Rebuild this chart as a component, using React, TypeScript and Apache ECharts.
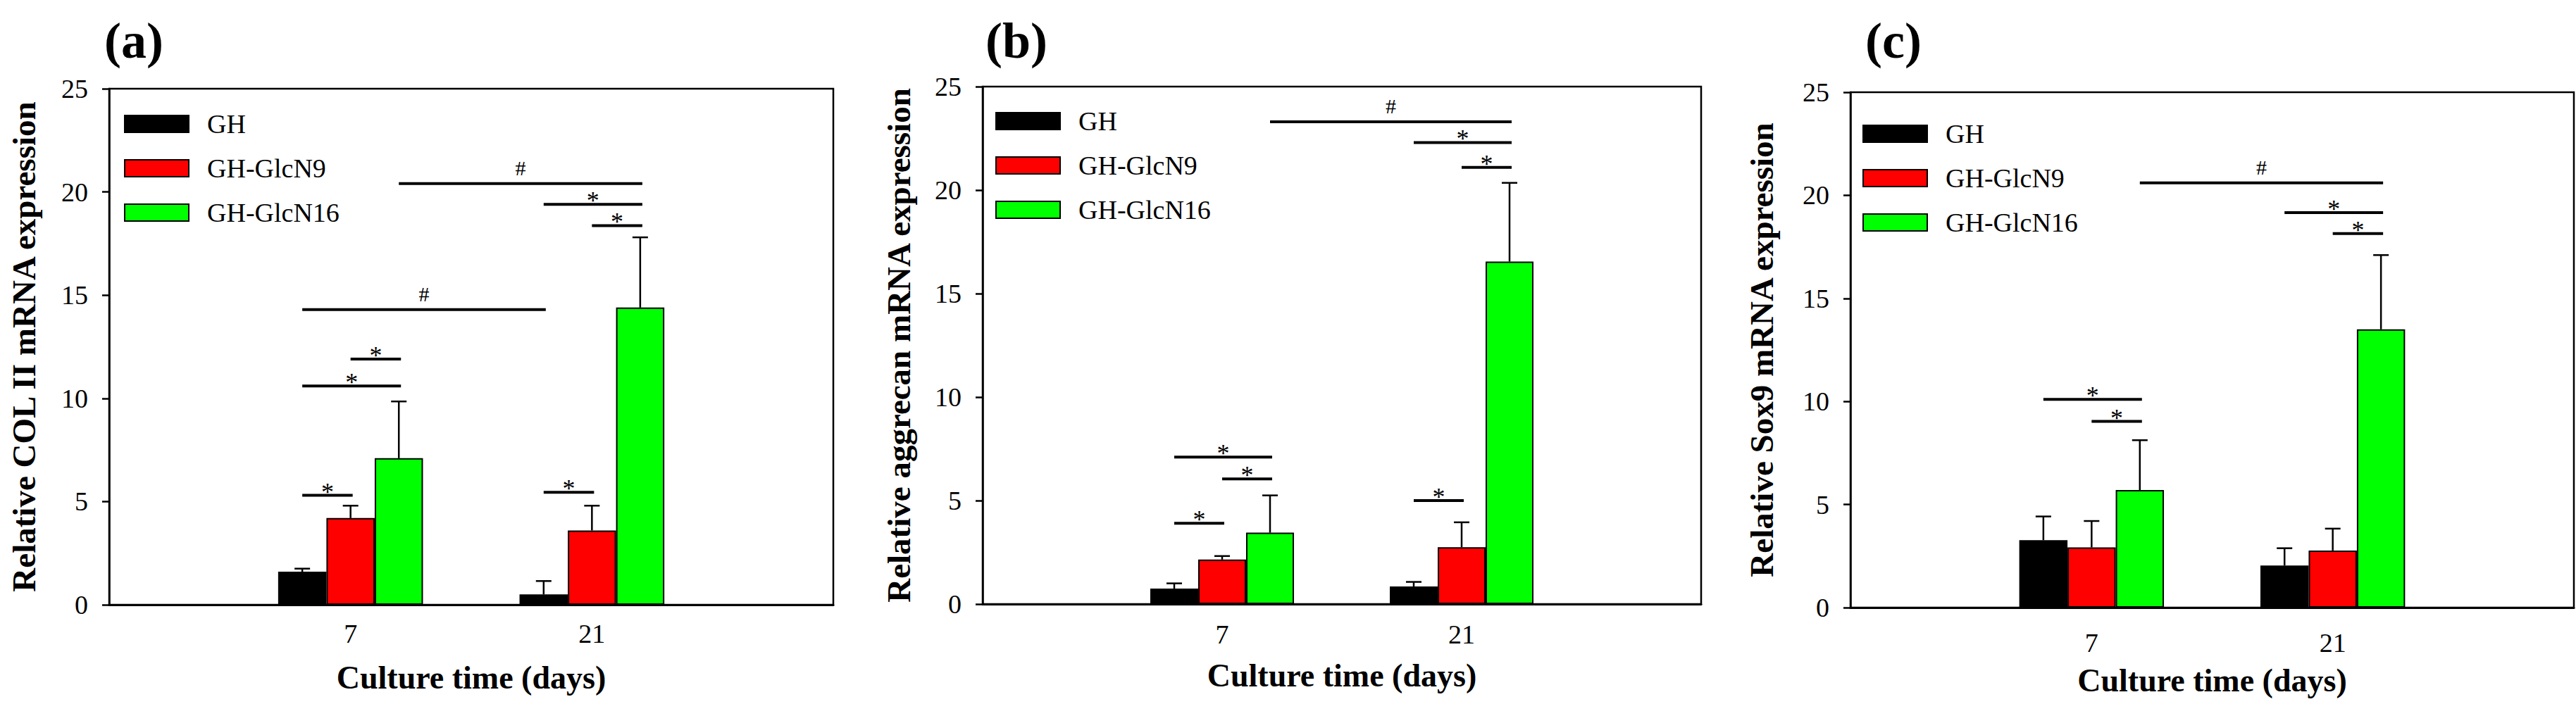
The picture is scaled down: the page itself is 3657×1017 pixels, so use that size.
import React, { useEffect, useRef } from 'react';
import * as echarts from 'echarts';

// ---------- data ----------
const categories = ['', '7', '21', ''];
const groupNames = ['GH', 'GH-GlcN9', 'GH-GlcN16'];
const groupColors = ['#000000', '#ff0000', '#00ff00'];
const xTitle = 'Culture time (days)';

// panel (a) COL II
const colMeanGH = [1.6, 0.5];
const colMeanGlcN9 = [4.2, 3.6];
const colMeanGlcN16 = [7.1, 14.4];
const colErrGH = [0.15, 0.65];
const colErrGlcN9 = [0.6, 1.2];
const colErrGlcN16 = [2.75, 3.4];

// panel (b) aggrecan
const aggMeanGH = [0.75, 0.85];
const aggMeanGlcN9 = [2.15, 2.75];
const aggMeanGlcN16 = [3.45, 16.55];
const aggErrGH = [0.25, 0.22];
const aggErrGlcN9 = [0.17, 1.2];
const aggErrGlcN16 = [1.8, 3.8];

// panel (c) Sox9
const soxMeanGH = [3.27, 2.04];
const soxMeanGlcN9 = [2.92, 2.77];
const soxMeanGlcN16 = [5.7, 13.5];
const soxErrGH = [1.15, 0.84];
const soxErrGlcN9 = [1.28, 1.06];
const soxErrGlcN16 = [2.42, 3.6];

// significance marks: from [dayIndex, groupIndex] to [dayIndex, groupIndex] at height y
type Mark = { a: [number, number]; b: [number, number]; y: number; t: string };
const colMarks: Mark[] = [
  { a: [0, 0], b: [0, 1], y: 5.3, t: '*' },
  { a: [0, 0], b: [0, 2], y: 10.6, t: '*' },
  { a: [0, 1], b: [0, 2], y: 11.9, t: '*' },
  { a: [0, 0], b: [1, 0], y: 14.3, t: '#' },
  { a: [1, 0], b: [1, 1], y: 5.45, t: '*' },
  { a: [1, 0], b: [1, 2], y: 19.4, t: '*' },
  { a: [1, 1], b: [1, 2], y: 18.37, t: '*' },
  { a: [0, 2], b: [1, 2], y: 20.4, t: '#' },
];
const aggMarks: Mark[] = [
  { a: [0, 0], b: [0, 1], y: 3.9, t: '*' },
  { a: [0, 0], b: [0, 2], y: 7.1, t: '*' },
  { a: [0, 1], b: [0, 2], y: 6.05, t: '*' },
  { a: [1, 0], b: [1, 1], y: 5.0, t: '*' },
  { a: [1, 0], b: [1, 2], y: 22.3, t: '*' },
  { a: [1, 1], b: [1, 2], y: 21.1, t: '*' },
  { a: [0, 2], b: [1, 2], y: 23.3, t: '#' },
];
const soxMarks: Mark[] = [
  { a: [0, 0], b: [0, 2], y: 10.1, t: '*' },
  { a: [0, 1], b: [0, 2], y: 9.03, t: '*' },
  { a: [1, 0], b: [1, 2], y: 19.16, t: '*' },
  { a: [1, 1], b: [1, 2], y: 18.14, t: '*' },
  { a: [0, 2], b: [1, 2], y: 20.6, t: '#' },
];

// ---------- layout ----------
const FONT = 'Liberation Serif';
const BAR_FRAC = 0.2;

const panels = [
  {
    label: '(a)',
    yName: 'Relative COL II mRNA expression',
    means: [colMeanGH, colMeanGlcN9, colMeanGlcN16],
    errs: [colErrGH, colErrGlcN9, colErrGlcN16],
    marks: colMarks,
    grid: { left: 155, top: 126, width: 1028, height: 733 },
    legend: { left: 176, top: 157 },
    title: { left: 148, top: 22 },
    xLabelMargin: 22,
    xNameGap: 80,
    yNameGap: 98,
  },
  {
    label: '(b)',
    yName: 'Relative aggrecan mRNA expression',
    means: [aggMeanGH, aggMeanGlcN9, aggMeanGlcN16],
    errs: [aggErrGH, aggErrGlcN9, aggErrGlcN16],
    marks: aggMarks,
    grid: { left: 1395, top: 123, width: 1020, height: 735 },
    legend: { left: 1413, top: 153 },
    title: { left: 1399, top: 22 },
    xLabelMargin: 24,
    xNameGap: 78,
    yNameGap: 96,
  },
  {
    label: '(c)',
    yName: 'Relative Sox9 mRNA expression',
    means: [soxMeanGH, soxMeanGlcN9, soxMeanGlcN16],
    errs: [soxErrGH, soxErrGlcN9, soxErrGlcN16],
    marks: soxMarks,
    grid: { left: 2627, top: 131, width: 1028, height: 732 },
    legend: { left: 2644, top: 171 },
    title: { left: 2648, top: 22 },
    xLabelMargin: 31,
    xNameGap: 80,
    yNameGap: 103,
  },
];

function buildOption() {
  const grid: any[] = [];
  const xAxis: any[] = [];
  const yAxis: any[] = [];
  const legend: any[] = [];
  const title: any[] = [];
  const series: any[] = [];

  panels.forEach((p, pi) => {
    grid.push({ ...p.grid, show: true, borderColor: '#000', borderWidth: 2.5, backgroundColor: 'transparent' });
    title.push({
      text: p.label,
      left: p.title.left,
      top: p.title.top,
      padding: 0,
      textStyle: { fontFamily: FONT, fontSize: 72, fontWeight: 'bold', color: '#000' },
    });
    legend.push({
      data: groupNames,
      orient: 'vertical',
      left: p.legend.left,
      top: p.legend.top,
      padding: 0,
      itemWidth: 91,
      itemHeight: 24,
      itemGap: 25,
      icon: 'rect',
      selectedMode: false,
      textStyle: { fontFamily: FONT, fontSize: 38, color: '#000', lineHeight: 24, padding: [0, 0, 0, 21] },
    });
    xAxis.push({
      gridIndex: pi,
      type: 'category',
      data: categories,
      boundaryGap: false,
      name: xTitle,
      nameLocation: 'middle',
      nameGap: p.xNameGap,
      nameTextStyle: { fontFamily: FONT, fontSize: 46, fontWeight: 'bold', color: '#000' },
      axisLine: { show: true, lineStyle: { color: '#000', width: 3 } },
      axisTick: { show: false },
      axisLabel: { interval: 0, fontFamily: FONT, fontSize: 38, color: '#000', margin: p.xLabelMargin },
      splitLine: { show: false },
    });
    yAxis.push({
      gridIndex: pi,
      type: 'value',
      min: 0,
      max: 25,
      interval: 5,
      name: p.yName,
      nameLocation: 'middle',
      nameGap: p.yNameGap,
      nameTextStyle: { fontFamily: FONT, fontSize: 47, fontWeight: 'bold', color: '#000' },
      axisLine: { show: true, lineStyle: { color: '#000', width: 2.5 } },
      axisTick: { show: true, inside: false, length: 10, lineStyle: { color: '#000', width: 2.5 } },
      axisLabel: { fontFamily: FONT, fontSize: 38, color: '#000', margin: 30 },
      splitLine: { show: false },
    });

    groupNames.forEach((g, gi) => {
      const m = p.means[gi];
      series.push({
        type: 'bar',
        name: g,
        xAxisIndex: pi,
        yAxisIndex: pi,
        data: ['-', m[0], m[1], '-'],
        barWidth: BAR_FRAC * 100 + '%',
        barGap: '0%',
        itemStyle: { color: groupColors[gi], borderColor: '#000', borderWidth: 2 },
      });
    });

    groupNames.forEach((g, gi) => {
      const m = p.means[gi];
      const e = p.errs[gi];
      const offset = gi - 1;
      series.push({
        type: 'custom',
        name: g + ' error',
        xAxisIndex: pi,
        yAxisIndex: pi,
        encode: { x: 0, y: 1 },
        data: [
          [1, m[0], e[0]],
          [2, m[1], e[1]],
        ],
        renderItem: (params: any, api: any) => {
          const cat = api.value(0);
          const mean = api.value(1);
          const err = api.value(2);
          const band = api.size([1, 0])[0];
          const base = api.coord([cat, mean]);
          const top = api.coord([cat, mean + err]);
          const x = base[0] + offset * BAR_FRAC * band;
          const st = { stroke: '#000', lineWidth: 2.5 };
          return {
            type: 'group',
            children: [
              { type: 'line', shape: { x1: x, y1: base[1], x2: x, y2: top[1] }, style: st },
              { type: 'line', shape: { x1: x - 11, y1: top[1], x2: x + 11, y2: top[1] }, style: st },
            ],
          };
        },
        z: 3,
      });
    });

    const marks = p.marks;
    series.push({
      type: 'custom',
      name: 'significance',
      xAxisIndex: pi,
      yAxisIndex: pi,
      encode: { x: 0, y: 1 },
      data: marks.map((mk) => [mk.a[0] + 1, mk.y]),
      renderItem: (params: any, api: any) => {
        const mk = marks[params.dataIndex];
        const band = api.size([1, 0])[0];
        const pa = api.coord([mk.a[0] + 1, mk.y]);
        const pb = api.coord([mk.b[0] + 1, mk.y]);
        const x1 = pa[0] + (mk.a[1] - 1) * BAR_FRAC * band;
        const x2 = pb[0] + (mk.b[1] - 1) * BAR_FRAC * band + 3;
        const y = pa[1];
        const isHash = mk.t === '#';
        return {
          type: 'group',
          children: [
            { type: 'line', shape: { x1, y1: y, x2, y2: y }, style: { stroke: '#000', lineWidth: 4 } },
            {
              type: 'text',
              x: (x1 + x2) / 2,
              y: y - (isHash ? 22 : 5),
              style: {
                text: mk.t,
                textAlign: 'center',
                textVerticalAlign: 'middle',
                fontFamily: FONT,
                fontSize: isHash ? 30 : 36,
                fill: '#000',
              },
            },
          ],
        };
      },
      z: 4,
    });
  });

  return {
    animation: false,
    backgroundColor: '#ffffff',
    textStyle: { fontFamily: FONT },
    title,
    legend,
    grid,
    xAxis,
    yAxis,
    series,
  };
}

export default function App() {
  const ref = useRef<HTMLDivElement>(null);
  useEffect(() => {
    if (!ref.current) return;
    const chart = echarts.init(ref.current, null, { renderer: 'svg' });
    chart.setOption(buildOption() as any);
    return () => chart.dispose();
  }, []);
  return (
    <div
      ref={ref}
      style={{ position: 'fixed', left: 0, top: 0, width: 3657, height: 1017, background: '#fff' }}
    />
  );
}
